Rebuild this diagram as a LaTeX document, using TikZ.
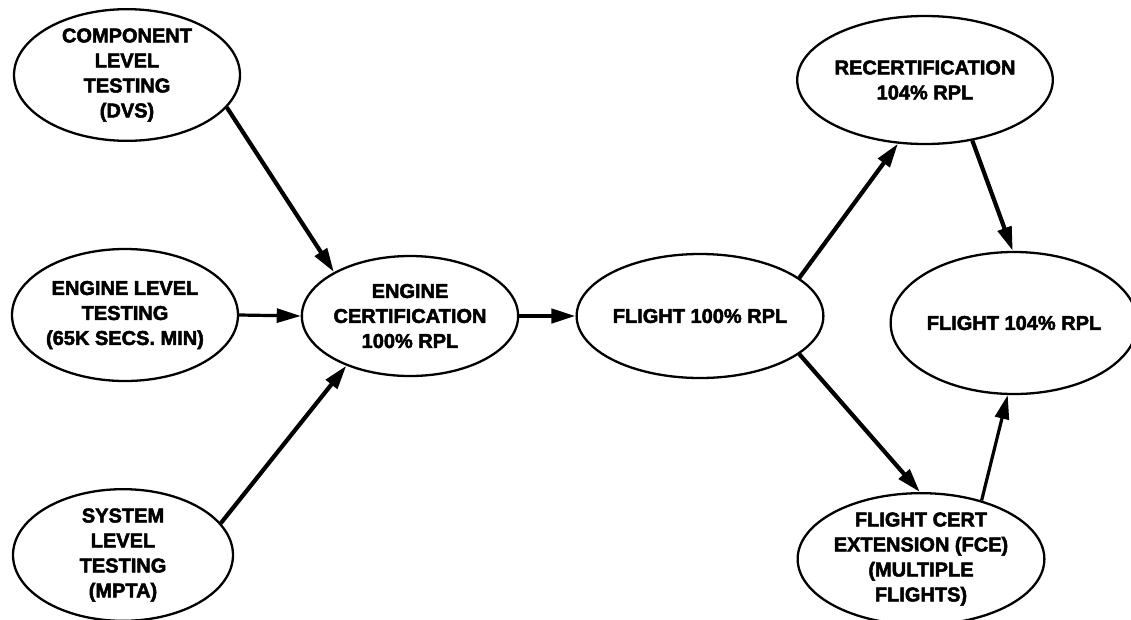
\documentclass[tikz,border=0pt]{standalone}
\usepackage{fontspec}
\setmainfont{Liberation Sans}[BoldFeatures={FakeBold=2.5}]
\usetikzlibrary{shapes.geometric,arrows.meta}
\begin{document}
\begin{tikzpicture}[x=1pt,y=-1pt,
  ell/.style={ellipse,draw,line width=2.3pt,inner sep=0pt,align=center,
    font=\bfseries\fontsize{20}{25}\selectfont},
  arr/.style={line width=4.2pt,-{Triangle[length=24pt,width=14pt]}},
  thinarr/.style={line width=3.2pt,-{Triangle[length=24pt,width=14pt]}}]
\useasboundingbox (0,0) rectangle (1131,619);
\node[ell,minimum width=226pt,minimum height=122pt] (comp) at (127,75) {COMPONENT\\LEVEL\\TESTING\\(DVS)};
\node[ell,minimum width=226pt,minimum height=132pt] (englev) at (125,315) {ENGINE LEVEL\\TESTING\\(65K SECS. MIN)};
\node[ell,minimum width=220pt,minimum height=124pt] (sys) at (123,555) {SYSTEM\\LEVEL\\TESTING\\(MPTA)};
\node[ell,minimum width=214pt,minimum height=120pt] (cert) at (410,316) {ENGINE\\CERTIFICATION\\100\% RPL};
\node[ell,minimum width=236pt,minimum height=124pt] (fl100) at (700,316) {FLIGHT 100\% RPL};
\node[ell,minimum width=232pt,minimum height=128pt] (recert) at (925,80) {RECERTIFICATION\\104\% RPL};
\node[ell,minimum width=224pt,minimum height=142pt] (fl104) at (1014,323) {FLIGHT 104\% RPL};
\node[ell,minimum width=232pt,minimum height=120pt] (fce) at (921,559) {FLIGHT CERT\\EXTENSION (FCE)\\(MULTIPLE\\FLIGHTS)};
\draw[arr] (comp.-18) -- (cert.150);
\draw[thinarr] (englev.east) -- (cert.west);
\draw[arr] (sys.18) -- (cert.-142);
\draw[arr] (cert.east) -- (fl100.west);
\draw[arr] (fl100.21) -- (recert.-113);
\draw[arr] (fl100.-21) -- (fce.91);
\draw[arr] (recert.-52) -- (fl104.91);
\draw[thinarr] (fce.44) -- (fl104.-95);
\end{tikzpicture}
\end{document}
